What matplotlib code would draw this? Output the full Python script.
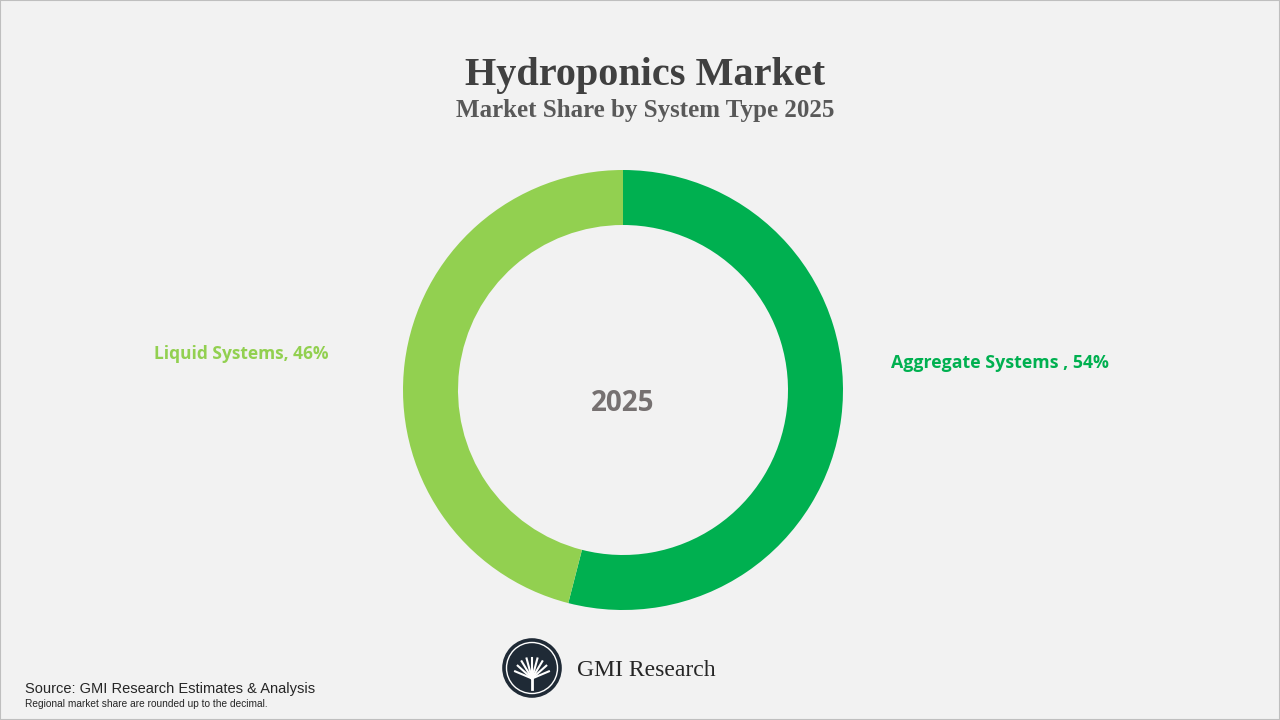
import numpy as np
import matplotlib.pyplot as plt
from matplotlib.patches import Circle, Rectangle

segments = ["Aggregate Systems ", "Liquid Systems"]
shares = [54, 46]
colors = ["#00b050", "#92d050"]
year = "2025"

fig = plt.figure(figsize=(12.8, 7.2), dpi=100, facecolor="#f2f2f2")
fig.patches.append(Rectangle((0, 0), 1, 1, transform=fig.transFigure, fill=False,
                             edgecolor="#bfbfbf", linewidth=1.5))

# donut, centre (623, 390) px, outer radius 220 px
ax = fig.add_axes([(623 - 220) / 1280, 1 - (390 + 220) / 720, 440 / 1280, 440 / 720])
ax.pie(shares, colors=colors, startangle=90, counterclock=False, radius=1,
       wedgeprops=dict(width=0.25, edgecolor="none"))
ax.set_xlim(-1, 1)
ax.set_ylim(-1, 1)
ax.set_aspect("auto")
ax.axis("off")
ax.text(0, -0.06, year, ha="center", va="center", fontsize=20, fontweight="bold",
        color="#767171", family="Open Sans")

fig.text(891 / 1280, 1 - 363 / 720, f"{segments[0]}, {shares[0]}%", ha="left", va="center",
         fontsize=12.8, fontweight="bold", color=colors[0], family="Open Sans")
fig.text(328 / 1280, 1 - 354 / 720, f"{segments[1]}, {shares[1]}%", ha="right", va="center",
         fontsize=12.5, fontweight="bold", color=colors[1], family="Open Sans")

fig.text(645 / 1280, 1 - 75 / 720, "Hydroponics Market", ha="center", va="center", fontsize=29,
         fontweight="bold", color="#404040", family="Liberation Serif")
fig.text(645 / 1280, 1 - 111 / 720, "Market Share by System Type 2025", ha="center", va="center",
         fontsize=18, fontweight="bold", color="#595959", family="Liberation Serif")

# logo
lx, ly = 532 / 1280, 1 - 668 / 720
lax = fig.add_axes([lx - 30 / 1280, ly - 30 / 720, 60 / 1280, 60 / 720])
lax.set_xlim(-1, 1)
lax.set_ylim(-1, 1)
lax.axis("off")
lax.add_patch(Circle((0, 0), 0.97, color="#1f2a36"))
lax.add_patch(Circle((0, 0), 0.85, fill=False, edgecolor="white", linewidth=1))
for a in np.linspace(20, 160, 9):
    r = np.radians(a)
    lax.plot([0, 0.6 * np.cos(r)], [-0.35, -0.35 + 0.7 * np.sin(r)], color="white", lw=1.5)
lax.plot([0, 0], [-0.35, -0.7], color="white", lw=2)
fig.text(577 / 1280, 1 - 670 / 720, "GMI Research", ha="left", va="center", fontsize=17,
         color="#262626", family="Liberation Serif")

fig.text(25 / 1280, 1 - 689 / 720, "Source: GMI Research Estimates & Analysis", ha="left",
         va="center", fontsize=10.5, color="#262626", family="Liberation Sans")
fig.text(25 / 1280, 1 - 704 / 720, "Regional market share are rounded up to the decimal.",
         ha="left", va="center", fontsize=7.3, color="#262626", family="Liberation Sans")

fig.savefig("out.png", dpi=100, facecolor=fig.get_facecolor())
